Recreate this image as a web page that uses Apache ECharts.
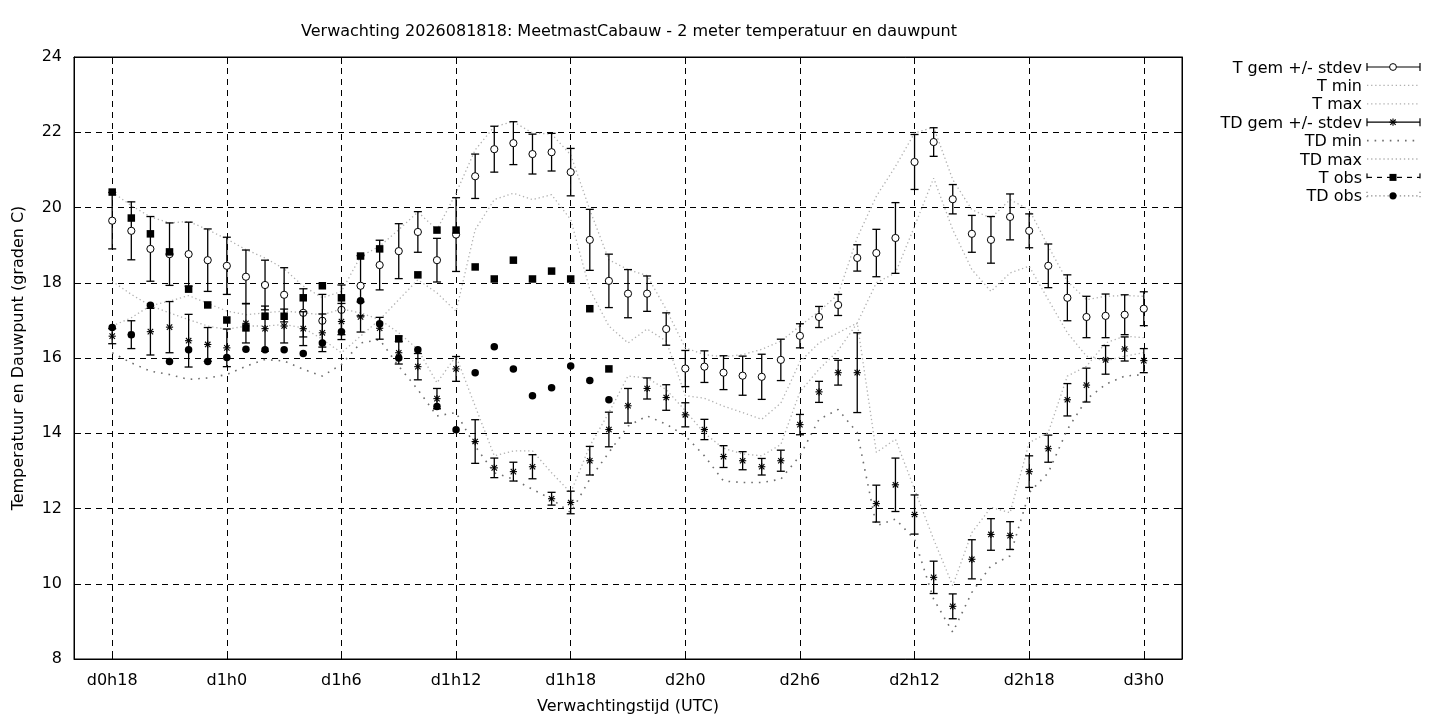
<!DOCTYPE html>
<html>
<head>
<meta charset="utf-8">
<title>Verwachting MeetmastCabauw</title>
<script src="https://cdn.jsdelivr.net/npm/echarts@6/dist/echarts.min.js"></script>
<style>
  html, body { margin: 0; padding: 0; background: #fff; }
  #chart { width: 1440px; height: 720px; }
</style>
</head>
<body>
<div id="chart"></div>
<script>
// uren vanaf d0h0, de as loopt van uur 16 t/m 74
var firstHour = 16, lastHour = 74;
var fcStart = 18;   // eerste verwachtingsuur
var obsStart = 18;  // eerste waarneming

// T gem en stdev (uur 18..72)
var tGem = [19.65, 19.38, 18.90, 18.76, 18.76, 18.60, 18.45, 18.16, 17.94, 17.68,
            17.20, 16.99, 17.28, 17.92, 18.47, 18.84, 19.35, 18.60, 19.28, 20.83,
            21.55, 21.71, 21.42, 21.47, 20.94, 19.14, 18.05, 17.71, 17.71, 16.77,
            15.72, 15.77, 15.61, 15.53, 15.50, 15.95, 16.59, 17.09, 17.41, 18.66,
            18.79, 19.19, 21.21, 21.74, 20.22, 19.30, 19.14, 19.75, 19.38, 18.45,
            17.60, 17.09, 17.12, 17.15, 17.31];
var tSd = [0.75, 0.77, 0.86, 0.83, 0.85, 0.83, 0.76, 0.71, 0.66, 0.72,
           0.64, 0.70, 0.66, 0.80, 0.66, 0.73, 0.54, 0.58, 0.98, 0.59,
           0.61, 0.57, 0.53, 0.50, 0.63, 0.81, 0.71, 0.64, 0.47, 0.43,
           0.48, 0.42, 0.45, 0.52, 0.60, 0.55, 0.32, 0.28, 0.28, 0.35,
           0.63, 0.94, 0.73, 0.38, 0.39, 0.49, 0.62, 0.61, 0.45, 0.58,
           0.61, 0.55, 0.58, 0.53, 0.45];
var tMin = [18.04, 17.69, 17.39, 17.20, 17.02, 16.85, 16.76, 16.85, 16.85, 16.89,
            16.80, 16.50, 16.14, 16.58, 17.02, 17.55, 18.08, 17.73, 17.24, 19.41,
            20.21, 20.38, 20.21, 20.34, 19.68, 17.82, 16.85, 16.40, 16.77, 16.45,
            15.00, 14.93, 14.72, 14.55, 14.37, 14.80, 15.90, 16.40, 16.67, 16.93,
            18.00, 18.26, 19.50, 20.78, 19.41, 18.35, 17.77, 18.26, 18.44, 17.55,
            16.67, 16.05, 15.92, 16.05, 16.14];
var tMax = [20.41, 20.05, 19.75, 19.59, 19.63, 19.41, 19.16, 18.88, 18.66, 18.37,
            17.91, 17.60, 17.77, 18.70, 18.97, 19.41, 19.88, 19.41, 20.38, 21.53,
            22.15, 22.28, 21.98, 21.95, 21.40, 19.94, 18.61, 18.35, 18.19, 17.29,
            16.27, 16.09, 16.03, 16.09, 16.23, 16.45, 16.85, 17.24, 17.69, 19.20,
            20.30, 21.09, 21.98, 22.13, 20.74, 19.94, 19.72, 20.21, 19.94, 18.97,
            18.04, 17.55, 17.64, 17.66, 17.64];

// TD gem en stdev (uur 18..72)
var tdGem = [16.58, 16.62, 16.70, 16.82, 16.46, 16.36, 16.27, 16.92, 16.78, 16.85,
             16.78, 16.67, 16.97, 17.09, 16.79, 16.14, 15.77, 14.92, 15.71, 13.78,
             13.08, 12.98, 13.11, 12.26, 12.16, 13.27, 14.10, 14.73, 15.19, 14.95,
             14.49, 14.10, 13.38, 13.27, 13.11, 13.27, 14.23, 15.10, 15.61, 15.61,
             12.13, 12.63, 11.84, 10.17, 9.40, 10.65, 11.31, 11.28, 12.98, 13.59,
             14.89, 15.28, 15.95, 16.24, 15.93];
var tdSd = [0.20, 0.37, 0.62, 0.68, 0.70, 0.45, 0.50, 0.52, 0.60, 0.45,
            0.45, 0.50, 0.48, 0.40, 0.29, 0.30, 0.35, 0.27, 0.33, 0.58,
            0.26, 0.25, 0.32, 0.17, 0.30, 0.38, 0.46, 0.46, 0.28, 0.34,
            0.32, 0.27, 0.29, 0.24, 0.22, 0.28, 0.27, 0.28, 0.33, 1.06,
            0.49, 0.71, 0.52, 0.43, 0.33, 0.52, 0.42, 0.37, 0.42, 0.36,
            0.43, 0.45, 0.38, 0.32, 0.32];
var tdMin = [16.14, 15.87, 15.65, 15.56, 15.43, 15.47, 15.56, 15.78, 15.96, 15.92,
             15.70, 15.52, 15.83, 16.40, 16.49, 15.78, 15.16, 14.46, 14.55, 13.66,
             12.95, 12.78, 12.51, 12.25, 11.89, 12.78, 13.49, 14.19, 14.46, 14.24,
             13.93, 13.40, 12.73, 12.69, 12.69, 12.78, 13.40, 14.37, 14.63, 14.02,
             11.54, 11.72, 11.18, 9.59, 8.71, 9.77, 10.48, 10.74, 12.42, 12.95,
             14.10, 14.90, 15.30, 15.52, 15.56];
var tdMax = [16.85, 17.07, 17.39, 17.51, 17.66, 17.45, 17.25, 17.15, 17.20, 17.25,
             17.20, 17.15, 17.30, 17.20, 17.02, 16.67, 16.23, 15.34, 16.05, 14.72,
             13.40, 13.53, 13.53, 12.95, 12.42, 13.66, 14.55, 15.52, 15.47, 15.16,
             14.60, 14.00, 13.60, 13.45, 13.40, 13.70, 15.10, 15.70, 16.20, 16.93,
             13.49, 13.84, 12.51, 11.18, 9.95, 11.36, 12.03, 11.89, 13.75, 14.02,
             15.52, 15.78, 16.40, 16.58, 16.54];

// waarnemingen (uur 18..44)
var tObs = [20.41, 19.72, 19.30, 18.82, 17.83, 17.41, 17.01, 16.80, 17.11, 17.11,
            17.60, 17.92, 17.60, 18.71, 18.90, 16.51, 18.21, 19.40, 19.40, 18.42,
            18.10, 18.60, 18.10, 18.31, 18.10, 17.31, 15.71];
var tdObs = [16.81, 16.62, 17.40, 15.91, 16.22, 15.91, 16.01, 16.23, 16.22, 16.22,
             16.12, 16.40, 16.70, 17.52, 16.91, 16.00, 16.22, 14.71, 14.09, 15.61,
             16.30, 15.71, 15.00, 15.21, 15.79, 15.40, 14.89];

var FONT = 'DejaVu Sans';
var FSIZE = 16;

// categorieen d0h16 .. d3h2
var hours = [];
for (var h = firstHour; h <= lastHour; h++) hours.push('d' + Math.floor(h / 24) + 'h' + (h % 24));

function isTick(index) {
	var hr = index + firstHour;
	return hr % 6 === 0 && hr >= 18 && hr <= 72;
}

// lijn-data op de categorie-as zetten
function pad(arr, start) {
	var out = [];
	for (var i = 0; i < hours.length; i++) out.push('-');
	for (var j = 0; j < arr.length; j++) out[start - firstHour + j] = arr[j];
	return out;
}

function barData(mean, sd, start) {
	var out = [];
	for (var i = 0; i < mean.length; i++) out.push([start - firstHour + i, mean[i], sd[i]]);
	return out;
}

function starLines(cx, cy) {
	var r = 3.6, d = 2.7;
	var as = { stroke: '#000', lineWidth: 1.1 };
	return [
		{ type: 'line', shape: { x1: cx - r, y1: cy, x2: cx + r, y2: cy }, style: as },
		{ type: 'line', shape: { x1: cx, y1: cy - r, x2: cx, y2: cy + r }, style: as },
		{ type: 'line', shape: { x1: cx - d, y1: cy - d, x2: cx + d, y2: cy + d }, style: as },
		{ type: 'line', shape: { x1: cx - d, y1: cy + d, x2: cx + d, y2: cy - d }, style: as }
	];
}

function errorBar(kind) {
	return function(params, api) {
		var x = api.value(0), m = api.value(1), s = api.value(2);
		var c = api.coord([x, m]);
		var hi = api.coord([x, m + s]);
		var lo = api.coord([x, m - s]);
		var cap = 4;
		var st = { stroke: '#000', lineWidth: 1.3 };
		var kids = [
			{ type: 'line', shape: { x1: c[0], y1: hi[1], x2: c[0], y2: lo[1] }, style: st },
			{ type: 'line', shape: { x1: c[0] - cap, y1: hi[1], x2: c[0] + cap, y2: hi[1] }, style: st },
			{ type: 'line', shape: { x1: c[0] - cap, y1: lo[1], x2: c[0] + cap, y2: lo[1] }, style: st }
		];
		if (kind === 'circle') {
			kids.push({ type: 'circle', shape: { cx: c[0], cy: c[1], r: 3.6 }, style: { fill: '#fff', stroke: '#000', lineWidth: 1 } });
		} else {
			kids = kids.concat(starLines(c[0], c[1]));
		}
		return { type: 'group', children: kids };
	};
}

var fineDot = { color: '#b0b0b0', width: 1.3, type: [1.3, 2.8] };
var sparseDot = { color: '#6e6e6e', width: 1.6, type: [1.6, 6] };

// legenda rechtsboven
var legendRows = [
	{ text: 'T gem +/- stdev', kind: 'circle' },
	{ text: 'T min', kind: 'fine' },
	{ text: 'T max', kind: 'fine' },
	{ text: 'TD gem +/- stdev', kind: 'star' },
	{ text: 'TD min', kind: 'sparse' },
	{ text: 'TD max', kind: 'fine' },
	{ text: 'T obs', kind: 'square' },
	{ text: 'TD obs', kind: 'dot' }
];
var legendGraphics = [];
var lx0 = 1367, lx1 = 1420, lxm = 1393;
legendRows.forEach(function(row, i) {
	var y = 67 + i * 18.4;
	legendGraphics.push({
		type: 'text', x: 1362, y: y + 1.5,
		style: {
			text: row.text, font: FSIZE + 'px "' + FONT + '"', fill: '#000',
			textAlign: 'right', textVerticalAlign: 'middle', align: 'right', verticalAlign: 'middle'
		}
	});
	var solid = { stroke: '#000', lineWidth: 1.2 };
	if (row.kind === 'circle' || row.kind === 'star' || row.kind === 'square' || row.kind === 'dot') {
		var ls = solid;
		if (row.kind === 'square') ls = { stroke: '#000', lineWidth: 1.2, lineDash: [5, 5] };
		if (row.kind === 'dot') ls = { stroke: '#888', lineWidth: 1.2, lineDash: [1.3, 2.8] };
		legendGraphics.push(
			{ type: 'line', shape: { x1: lx0, y1: y, x2: lx1, y2: y }, style: ls },
			{ type: 'line', shape: { x1: lx0, y1: y - 4, x2: lx0, y2: y + 4 }, style: ls },
			{ type: 'line', shape: { x1: lx1, y1: y - 4, x2: lx1, y2: y + 4 }, style: ls }
		);
		if (row.kind === 'circle') {
			legendGraphics.push({ type: 'circle', shape: { cx: lxm, cy: y, r: 3.4 }, style: { fill: '#fff', stroke: '#000', lineWidth: 1 } });
		} else if (row.kind === 'star') {
			legendGraphics = legendGraphics.concat(starLines(lxm, y));
		} else if (row.kind === 'square') {
			legendGraphics.push({ type: 'rect', shape: { x: lxm - 3.5, y: y - 3.5, width: 7, height: 7 }, style: { fill: '#000' } });
		} else {
			legendGraphics.push({ type: 'circle', shape: { cx: lxm, cy: y, r: 3.6 }, style: { fill: '#000' } });
		}
	} else {
		var dash = row.kind === 'sparse' ? { stroke: sparseDot.color, lineWidth: 1.6, lineDash: [1.6, 6] }
		                                 : { stroke: fineDot.color, lineWidth: 1.3, lineDash: [1.3, 2.8] };
		legendGraphics.push({ type: 'line', shape: { x1: lx0, y1: y, x2: lx1, y2: y }, style: dash });
	}
});

var chart = echarts.init(document.getElementById('chart'));
var option = {
	backgroundColor: '#fff',
	animation: false,
	title: {
		text: 'Verwachting 2026081818: MeetmastCabauw - 2 meter temperatuur en dauwpunt',
		left: 624,
		textAlign: 'center',
		top: 19,
		textStyle: { fontFamily: FONT, fontSize: FSIZE, fontWeight: 'normal', color: '#000' }
	},
	grid: {
		left: 74, right: 258, top: 57, bottom: 60,
		show: true, borderColor: '#000', borderWidth: 1
	},
	xAxis: [{
		type: 'category',
		data: hours,
		boundaryGap: false,
		name: 'Verwachtingstijd (UTC)',
		nameLocation: 'middle',
		nameGap: 40,
		nameTextStyle: { fontFamily: FONT, fontSize: FSIZE, color: '#000' },
		axisLine: { lineStyle: { color: '#000', width: 1 } },
		axisTick: { inside: true, length: 7, interval: isTick, lineStyle: { color: '#000' } },
		axisLabel: { interval: isTick, margin: 14, fontFamily: FONT, fontSize: FSIZE, color: '#000' },
		splitLine: { show: true, interval: isTick, lineStyle: { color: '#000', width: 1, type: [6, 5] } }
	}, {
		type: 'category',
		data: hours,
		boundaryGap: false,
		position: 'top',
		axisLine: { lineStyle: { color: '#000', width: 1 } },
		axisTick: { inside: true, length: 7, interval: isTick, lineStyle: { color: '#000' } },
		axisLabel: { show: false },
		splitLine: { show: false }
	}],
	yAxis: [{
		type: 'value',
		min: 8, max: 24, interval: 2,
		name: 'Temperatuur en Dauwpunt (graden C)',
		nameLocation: 'middle',
		nameGap: 47,
		nameTextStyle: { fontFamily: FONT, fontSize: FSIZE, color: '#000' },
		axisLine: { show: true, lineStyle: { color: '#000', width: 1 } },
		axisTick: { show: true, inside: true, length: 7, lineStyle: { color: '#000' } },
		axisLabel: { margin: 12, fontFamily: FONT, fontSize: FSIZE, color: '#000' },
		splitLine: { show: true, lineStyle: { color: '#000', width: 1, type: [6, 5] } }
	}, {
		type: 'value',
		min: 8, max: 24, interval: 2,
		position: 'right',
		axisLine: { show: true, lineStyle: { color: '#000', width: 1 } },
		axisTick: { show: true, inside: true, length: 7, lineStyle: { color: '#000' } },
		axisLabel: { show: false },
		splitLine: { show: false }
	}],
	graphic: legendGraphics,
	series: [
		{ name: 'T min', type: 'line', data: pad(tMin, fcStart), symbol: 'none', lineStyle: fineDot, z: 2 },
		{ name: 'T max', type: 'line', data: pad(tMax, fcStart), symbol: 'none', lineStyle: fineDot, z: 2 },
		{ name: 'TD min', type: 'line', data: pad(tdMin, fcStart), symbol: 'none', lineStyle: sparseDot, z: 2 },
		{ name: 'TD max', type: 'line', data: pad(tdMax, fcStart), symbol: 'none', lineStyle: fineDot, z: 2 },
		{ name: 'T gem +/- stdev', type: 'custom', data: barData(tGem, tSd, fcStart), renderItem: errorBar('circle'), z: 4 },
		{ name: 'TD gem +/- stdev', type: 'custom', data: barData(tdGem, tdSd, fcStart), renderItem: errorBar('star'), z: 4 },
		{ name: 'T obs', type: 'line', data: pad(tObs, obsStart), symbol: 'rect', symbolSize: 7.5, showAllSymbol: true,
		  lineStyle: { width: 0, opacity: 0 }, itemStyle: { color: '#000' }, z: 5 },
		{ name: 'TD obs', type: 'line', data: pad(tdObs, obsStart), symbol: 'circle', symbolSize: 7.5, showAllSymbol: true,
		  lineStyle: { width: 0, opacity: 0 }, itemStyle: { color: '#000' }, z: 5 }
	]
};
chart.setOption(option);
</script>
</body>
</html>
